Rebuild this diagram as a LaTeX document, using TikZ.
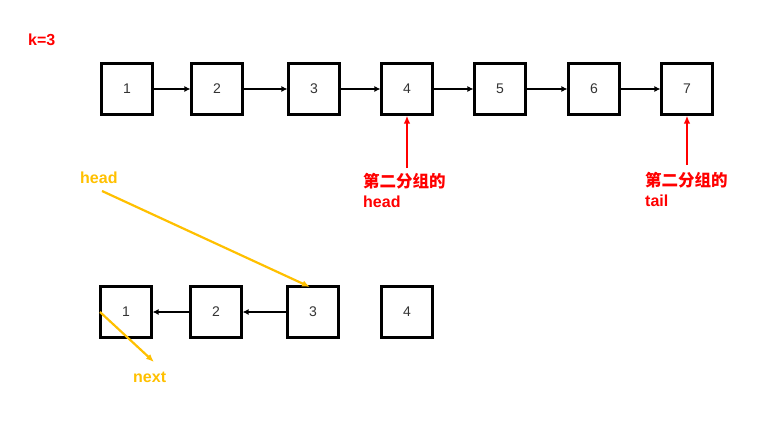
\documentclass[tikz,border=0pt]{standalone}
\usepackage{fontspec}
\setmainfont{Liberation Sans}
\newfontfamily\cjk{Noto Sans CJK SC}
\usetikzlibrary{arrows.meta}
\definecolor{myred}{HTML}{FF0000}
\definecolor{myyel}{HTML}{FFC000}
\begin{document}
\begin{tikzpicture}[x=1pt,y=-1pt,
  box/.style={draw=black,line width=2.1pt,minimum width=51pt,minimum height=51pt,inner sep=0pt,font=\fontsize{14}{16}\selectfont,text=black!80},
  link/.style={-{Latex[length=6pt,width=6pt]},line width=2.3pt},
  redarr/.style={-{Latex[length=8pt,width=6.5pt]},line width=2.2pt,draw=myred},
  yelarr/.style={-{Latex[length=8pt,width=6.5pt]},line width=2.2pt,draw=myyel},
  redlbl/.style={text=myred,font=\bfseries\fontsize{16}{20}\selectfont,align=left,inner sep=0pt,anchor=north west},
  yellbl/.style={text=myyel,font=\bfseries\fontsize{16}{18}\selectfont,inner sep=0pt}]
\useasboundingbox (0,0) rectangle (771,425);
\node[text=myred,font=\bfseries\fontsize{16}{18}\selectfont,inner sep=0pt,anchor=west] (k) at (28,40) {k=3};
% top row
\node[box] (t1) at (127,89) {1};
\node[box] (t2) at (217,89) {2};
\node[box] (t3) at (314,89) {3};
\node[box] (t4) at (407,89) {4};
\node[box] (t5) at (500,89) {5};
\node[box] (t6) at (594,89) {6};
\node[box] (t7) at (687,89) {7};
\foreach \a/\b in {t1/t2,t2/t3,t3/t4,t4/t5,t5/t6,t6/t7}
  \draw[link] (\a.east) -- (\b.west);
% red labels
\node[redlbl] (h2) at (363,173) {{\cjk\bfseries\fontsize{16.5}{20}\selectfont 第二分组的}\\head};
\node[redlbl] (t2l) at (645,172) {{\cjk\bfseries\fontsize{16.5}{20}\selectfont 第二分组的}\\tail};
\coordinate (h2top) at (407,168);
\coordinate (t2top) at (687,165);
\draw[redarr] (h2top) -- (t4.south);
\draw[redarr] (t2top) -- (t7.south);
% bottom row
\node[box] (b1) at (126,312) {1};
\node[box] (b2) at (216,312) {2};
\node[box] (b3) at (313,312) {3};
\node[box] (b4) at (407,312) {4};
\draw[link] (b2.west) -- (b1.east);
\draw[link] (b3.west) -- (b2.east);
% yellow
\node[yellbl,anchor=west] (hd) at (80,178) {head};
\node[yellbl,anchor=west] (nx) at (133,377) {next};
\coordinate (hs) at (102,191);
\coordinate (he) at (310,287);
\draw[yelarr] (hs) -- (he);
\coordinate (ns) at (100,312);
\coordinate (ne) at (154,362);
\draw[yelarr] (ns) -- (ne);
\end{tikzpicture}
\end{document}
